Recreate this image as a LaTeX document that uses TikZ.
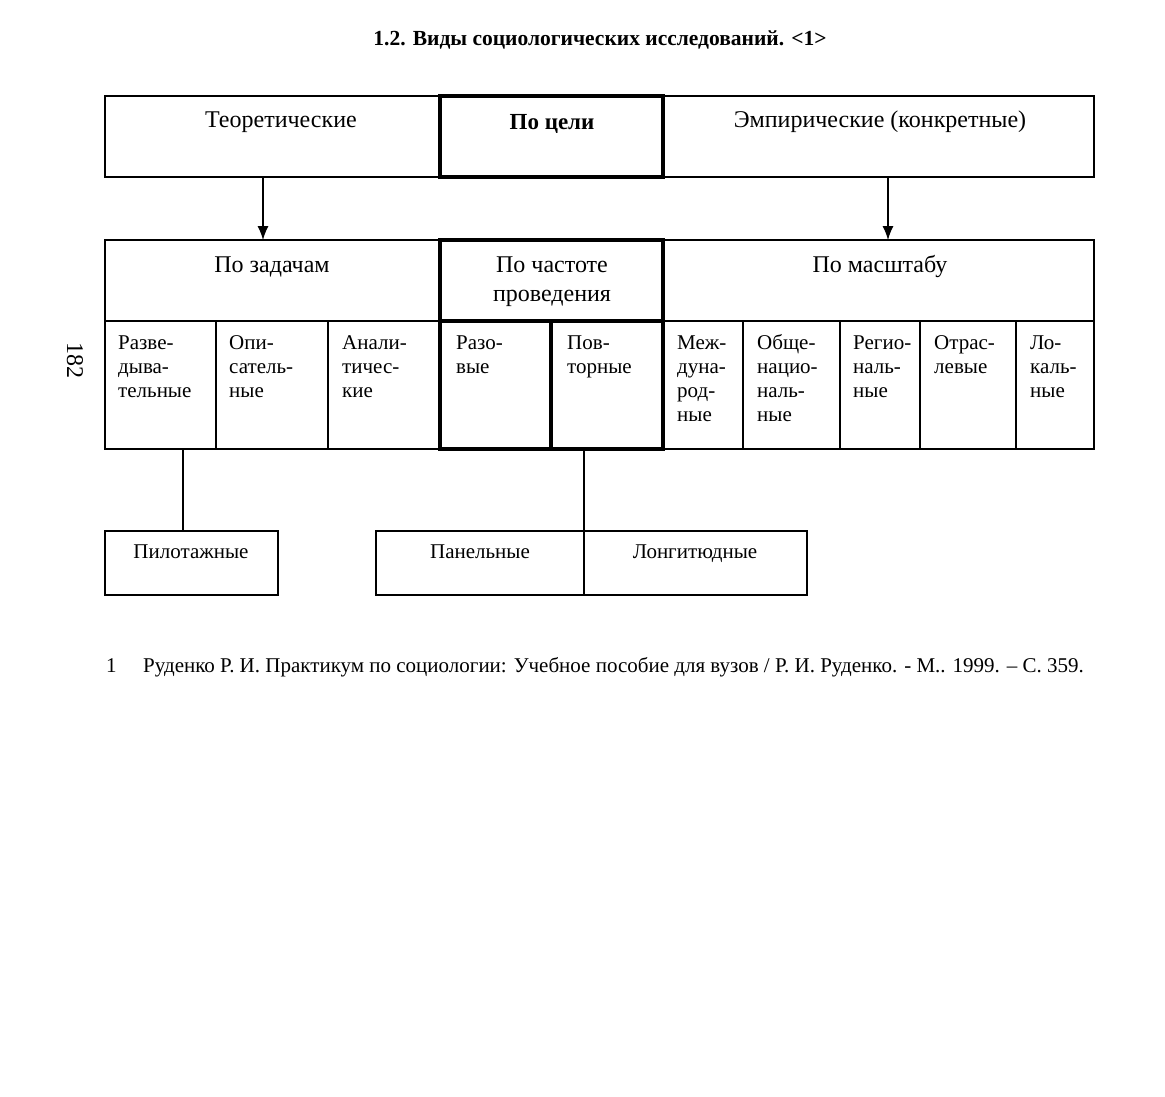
\documentclass[tikz,border=0pt]{standalone}
\usepackage{fontspec}
\setmainfont{Liberation Serif}
\usetikzlibrary{arrows.meta}
\newcommand{\cellstack}[1]{\begin{tabular}[t]{@{}l@{}}#1\end{tabular}}
\begin{document}
\begin{tikzpicture}[x=1pt,y=-1pt,
  cell/.style={draw, line width=1.2pt, inner sep=0pt, outer sep=0pt, anchor=north west},
  boldcell/.style={draw, line width=4pt, inner sep=0pt, outer sep=0pt, anchor=north west},
  head/.style={font=\fontsize{24}{29}\selectfont, anchor=base, inner sep=0pt},
  item/.style={font=\fontsize{21}{24}\selectfont, anchor=base west, inner sep=0pt},
  low/.style={font=\fontsize{21}{24}\selectfont, anchor=base, inner sep=0pt},
  arr/.style={line width=1.2pt, -{Latex[length=14pt,width=11pt]}},
  link/.style={line width=1.2pt}]
\useasboundingbox (0,0) rectangle (1165,1096);
% title
\node[font=\bfseries\fontsize{21.5}{24}\selectfont, anchor=base, inner sep=0pt] (title) at (600,45) {1.2. Виды социологических исследований. <1>};
% row 1
\node[cell, minimum width=335pt, minimum height=81pt] (teor) at (105,96) {};
\node[cell, minimum width=431pt, minimum height=81pt] (emp) at (663,96) {};
\node[boldcell, minimum width=223pt, minimum height=81pt] (goal) at (440,96) {};
\node[head] (teort) at (281,127) {Теоретические};
\node[head, font=\bfseries\fontsize{23}{29}\selectfont] (goalt) at (552,129) {По цели};
\node[head] (empt) at (880,127) {Эмпирические (конкретные)};
% row 2
\node[cell, minimum width=335pt, minimum height=81pt] (zad) at (105,240) {};
\node[cell, minimum width=431pt, minimum height=81pt] (masht) at (663,240) {};
\node[boldcell, minimum width=223pt, minimum height=81pt] (chast) at (440,240) {};
\node[head] (zadt) at (272,272) {По задачам};
\node[head] (chastt1) at (552,272) {По частоте};
\node[head] (chastt2) at (552,301) {проведения};
\node[head] (mashtt) at (880,272) {По масштабу};
% row 3
\node[cell, minimum width=111pt, minimum height=128pt] (razv) at (105,321) {};
\node[cell, minimum width=112pt, minimum height=128pt] (opis) at (216,321) {};
\node[cell, minimum width=112pt, minimum height=128pt] (anal) at (328,321) {};
\node[cell, minimum width=80pt, minimum height=128pt] (mezh) at (663,321) {};
\node[cell, minimum width=97pt, minimum height=128pt] (obsh) at (743,321) {};
\node[cell, minimum width=80pt, minimum height=128pt] (reg) at (840,321) {};
\node[cell, minimum width=96pt, minimum height=128pt] (otr) at (920,321) {};
\node[cell, minimum width=78pt, minimum height=128pt] (lok) at (1016,321) {};
\node[boldcell, minimum width=111pt, minimum height=128pt] (raz) at (440,321) {};
\node[boldcell, minimum width=112pt, minimum height=128pt] (povt) at (551,321) {};
\node[item] (razvt) at (118,349) {\cellstack{Разве-\\дыва-\\тельные}};
\node[item] (opist) at (229,349) {\cellstack{Опи-\\сатель-\\ные}};
\node[item] (analt) at (342,349) {\cellstack{Анали-\\тичес-\\кие}};
\node[item] (razt) at (456,349) {\cellstack{Разо-\\вые}};
\node[item] (povtt) at (567,349) {\cellstack{Пов-\\торные}};
\node[item] (mezht) at (677,349) {\cellstack{Меж-\\дуна-\\род-\\ные}};
\node[item] (obsht) at (757,349) {\cellstack{Обще-\\нацио-\\наль-\\ные}};
\node[item] (regt) at (853,349) {\cellstack{Регио-\\наль-\\ные}};
\node[item] (otrt) at (934,349) {\cellstack{Отрас-\\левые}};
\node[item] (lokt) at (1030,349) {\cellstack{Ло-\\каль-\\ные}};
% row 4
\node[cell, minimum width=173pt, minimum height=64pt] (pil) at (105,531) {};
\node[cell, minimum width=208pt, minimum height=64pt] (pan) at (376,531) {};
\node[cell, minimum width=223pt, minimum height=64pt] (lon) at (584,531) {};
\node[low] (pilt) at (191,558) {Пилотажные};
\node[low] (pant) at (480,558) {Панельные};
\node[low] (lont) at (695,558) {Лонгитюдные};
% connectors
\coordinate (c1) at (263,0);
\coordinate (c2) at (888,0);
\coordinate (c3) at (183,0);
\coordinate (c4) at (584,0);
\draw[arr] (teor.south -| c1) -- (zad.north -| c1);
\draw[arr] (emp.south -| c2) -- (masht.north -| c2);
\draw[link] (razv.south -| c3) -- (pil.north -| c3);
\draw[link] (povt.south -| c4) -- (pan.north east);
% page number
\node[font=\fontsize{24}{24}\selectfont, rotate=-90, inner sep=0pt] (page) at (75,360) {182};
% footnote
\node[font=\fontsize{21}{24}\selectfont, anchor=base west, inner sep=0pt] (fnn) at (106,672) {1};
\node[font=\fontsize{21}{24}\selectfont, anchor=base west, inner sep=0pt] (fnt) at (143,672) {Руденко Р. И. Практикум по социологии: Учебное пособие для вузов / Р. И. Руденко. - М.. 1999. – С. 359.};
\end{tikzpicture}
\end{document}
